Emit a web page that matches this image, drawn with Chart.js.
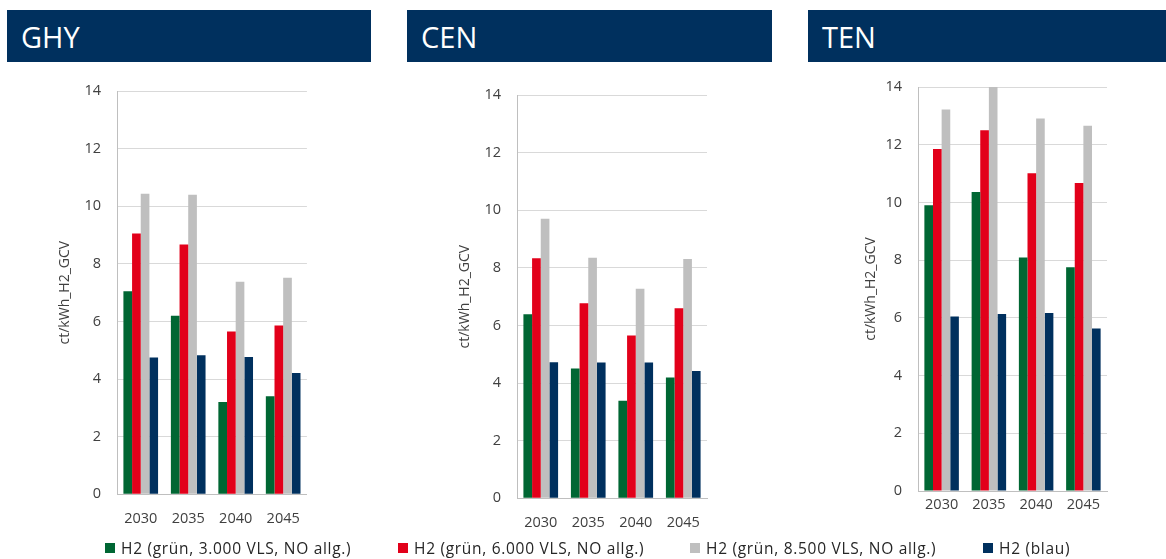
<!DOCTYPE html>
<html lang="de">
<head>
<meta charset="utf-8">
<title>Wasserstoffkosten GHY / CEN / TEN</title>
<script src="https://cdn.jsdelivr.net/npm/chart.js@4.4.1/dist/chart.umd.min.js"></script>
<style>
  html, body { margin: 0; padding: 0; background: #ffffff; }
  body { width: 1166px; height: 559px; position: relative; overflow: hidden; font-family: "Open Sans", "DejaVu Sans", sans-serif; }
  .head { position: absolute; top: 10px; height: 52px; background: #00305e; color: #ffffff;
          font-size: 29px; display: flex; align-items: center; box-sizing: border-box; padding-left: 14px; }
  .panel { position: absolute; }
  .legend { position: absolute; top: 539px; height: 18px; left: 0; width: 1166px; }
  .legend .item { position: absolute; top: 0; display: flex; align-items: center; height: 18px;
                  font-size: 15.5px; letter-spacing: 0.7px; color: #262626; white-space: nowrap; }
  .legend .sw { width: 10px; height: 10px; margin-right: 6px; flex: none; }
</style>
</head>
<body>

<div class="head" style="left:7px;width:364px;">GHY</div>
<div class="head" style="left:407px;width:365px;">CEN</div>
<div class="head" style="left:808px;width:358px;">TEN</div>

<div class="panel" id="pGHY"><canvas id="cGHY"></canvas></div>
<div class="panel" id="pCEN"><canvas id="cCEN"></canvas></div>
<div class="panel" id="pTEN"><canvas id="cTEN"></canvas></div>

<div class="legend" id="legend"></div>

<script>
// Years on the category axis
const categories = ['2030', '2035', '2040', '2045'];

// Series names (legend)
const seriesNames = [
  'H2 (grün, 3.000 VLS, NO allg.)',
  'H2 (grün, 6.000 VLS, NO allg.)',
  'H2 (grün, 8.500 VLS, NO allg.)',
  'H2 (blau)'
];

// Value axis ticks, ct/kWh_H2_GCV
const yTicks = [0, 2, 4, 6, 8, 10, 12, 14];
const yTitle = 'ct/kWh_H2_GCV';

// GHY
const ghyGruen3000 = [7.05, 6.20, 3.20, 3.40];
const ghyGruen6000 = [9.05, 8.67, 5.65, 5.86];
const ghyGruen8500 = [10.43, 10.40, 7.38, 7.52];
const ghyBlau      = [4.75, 4.83, 4.77, 4.21];

// CEN
const cenGruen3000 = [6.39, 4.51, 3.39, 4.19];
const cenGruen6000 = [8.33, 6.77, 5.65, 6.60];
const cenGruen8500 = [9.70, 8.35, 7.27, 8.31];
const cenBlau      = [4.72, 4.71, 4.71, 4.42];

// TEN
const tenGruen3000 = [9.90, 10.36, 8.09, 7.75];
const tenGruen6000 = [11.85, 12.50, 11.01, 10.67];
const tenGruen8500 = [13.22, 14.00, 12.91, 12.66];
const tenBlau      = [6.05, 6.13, 6.17, 5.63];

// Styling
const seriesColors = ['#006633', '#e2001a', '#bfbfbf', '#00305e'];
const tickFont = { family: '"Open Sans", "DejaVu Sans", sans-serif', size: 14.5 };
const textColor = '#404040';

// Plot-area placement of each panel on the page: left, top, width, height,
// y-title offset from the axis, x-label gap below the axis
const panels = [
  { canvas: 'cGHY', box: 'pGHY', data: [ghyGruen3000, ghyGruen6000, ghyGruen8500, ghyBlau],
    left: 117, top: 90.7, width: 190, height: 403.3, titleGap: 52, xPad: 16 },
  { canvas: 'cCEN', box: 'pCEN', data: [cenGruen3000, cenGruen6000, cenGruen8500, cenBlau],
    left: 517.3, top: 95, width: 190, height: 403.3, titleGap: 52, xPad: 15.5 },
  { canvas: 'cTEN', box: 'pTEN', data: [tenGruen3000, tenGruen6000, tenGruen8500, tenBlau],
    left: 917.7, top: 86.7, width: 189, height: 404, titleGap: 47, xPad: 5 }
];

// Top padding must exceed the y scale's own label padding (half label height + tick padding)
const AXIS_W = 70, PAD_TOP = 28, PAD_RIGHT = 10, AXIS_H = 45;

panels.forEach(p => {
  const cw = AXIS_W + p.width + PAD_RIGHT;
  const ch = PAD_TOP + p.height + AXIS_H;
  const box = document.getElementById(p.box);
  box.style.left = (p.left - AXIS_W) + 'px';
  box.style.top = (p.top - PAD_TOP) + 'px';
  box.style.width = cw + 'px';
  box.style.height = ch + 'px';

  new Chart(document.getElementById(p.canvas), {
    type: 'bar',
    data: {
      labels: categories,
      datasets: seriesNames.map((name, i) => ({
        label: name,
        data: p.data[i],
        backgroundColor: seriesColors[i],
        borderWidth: 0,
        categoryPercentage: 0.73,
        barPercentage: 1.0
      }))
    },
    options: {
      responsive: true,
      maintainAspectRatio: false,
      animation: false,
      layout: { padding: { left: 0, top: PAD_TOP, right: PAD_RIGHT, bottom: 0 } },
      plugins: { legend: { display: false }, tooltip: { enabled: false } },
      scales: {
        x: {
          grid: { display: false, drawTicks: false },
          border: { display: true, color: '#bfbfbf', width: 1 },
          ticks: { font: tickFont, color: textColor, padding: p.xPad, maxRotation: 0 },
          afterFit: s => { s.height = AXIS_H; }
        },
        y: {
          min: yTicks[0],
          max: yTicks[yTicks.length - 1],
          afterBuildTicks: s => { s.ticks = yTicks.map(v => ({ value: v })); },
          grid: { color: '#d9d9d9', drawTicks: false, lineWidth: 1 },
          border: { display: true, color: '#bfbfbf', width: 1 },
          ticks: { font: tickFont, color: textColor, padding: 16 },
          title: {
            display: true, text: yTitle, color: textColor,
            font: { family: tickFont.family, size: 14 },
            padding: { top: AXIS_W - p.titleGap - 8.4, bottom: 0 }
          },
          afterFit: s => { s.width = AXIS_W; }
        }
      }
    }
  });
});

// Shared legend below the panels
const legendX = [105, 398, 690, 983];
const legend = document.getElementById('legend');
seriesNames.forEach((name, i) => {
  const item = document.createElement('div');
  item.className = 'item';
  item.style.left = legendX[i] + 'px';
  const sw = document.createElement('span');
  sw.className = 'sw';
  sw.style.background = seriesColors[i];
  const tx = document.createElement('span');
  tx.textContent = name;
  item.appendChild(sw);
  item.appendChild(tx);
  legend.appendChild(item);
});
</script>
</body>
</html>
